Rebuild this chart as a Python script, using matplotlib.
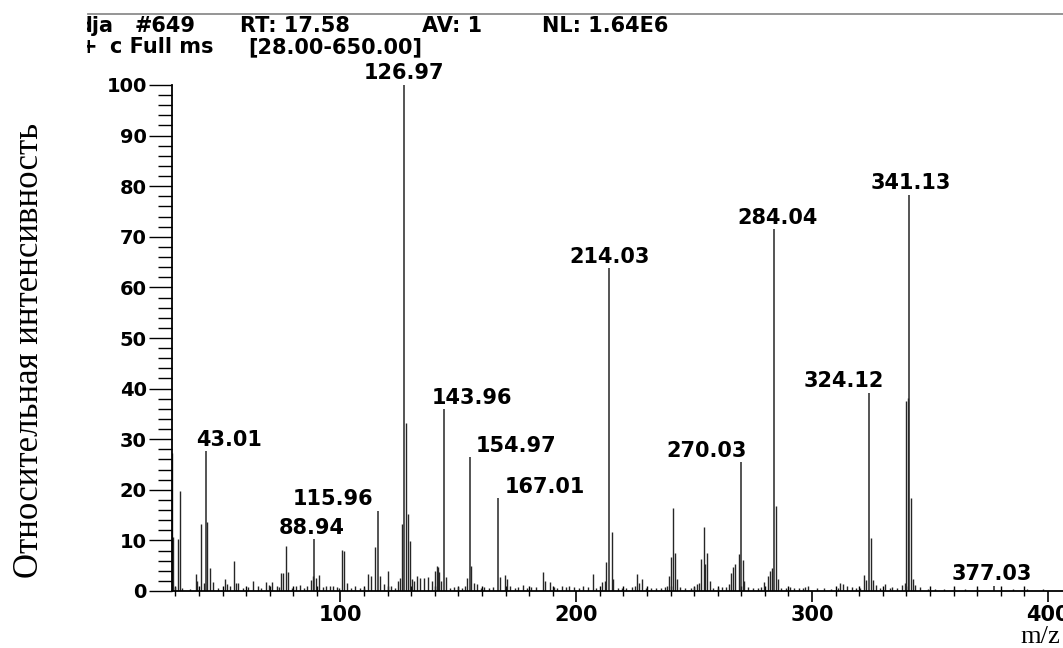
import matplotlib
matplotlib.use("Agg")
import matplotlib.pyplot as plt
import matplotlib.transforms as mtransforms
from matplotlib.lines import Line2D
from matplotlib.ticker import MultipleLocator

# ---------------- data ----------------
# labelled peaks: m/z and relative intensity (%)
peak_mz = [43.01, 88.94, 115.96, 126.97, 143.96, 154.97, 167.01,
           214.03, 270.03, 284.04, 324.12, 341.13, 377.03]
peak_int = [27.6, 10.2, 15.8, 100.0, 35.9, 26.4, 18.3,
            63.8, 25.4, 71.5, 39.2, 78.3, 1.0]

# remaining (unlabelled) ions
ion_mz = [28.6, 29.0, 30.0, 31.0, 32.0, 33.0, 36.0, 38.6, 39.3, 40.9, 42.0,
          43.4, 44.7, 45.9, 48.0, 50.9, 52.0, 53.0, 54.7, 55.6, 56.5, 58.5,
          61.0, 63.0, 65.0, 66.5, 68.5, 69.5, 70.8, 73.0, 74.0, 74.8, 75.6,
          76.8, 77.6, 79.5, 81.0, 83.0, 84.5, 86.0, 87.4, 88.2, 89.6, 90.8,
          92.5, 94.0, 95.5, 97.0, 98.5, 99.5, 100.8, 101.6, 102.8, 104.5,
          106.0, 108.5, 110.0, 111.8, 112.8, 114.6, 116.8, 118.4, 120.2,
          121.6, 123.0, 124.3, 125.4, 126.0, 127.7, 128.7, 129.6, 130.3,
          131.0, 132.5, 133.9, 135.3, 137.0, 138.8, 140.2, 140.8, 141.4,
          142.0, 142.5, 144.6, 146.5, 148.0, 150.0, 151.5, 153.0, 153.7,
          155.5, 156.5, 157.9, 159.5, 161.0, 163.0, 164.5, 167.7, 169.8,
          170.5, 172.0, 174.0, 175.5, 177.5, 179.0, 181.0, 183.0, 185.9,
          186.8, 188.7, 190.5, 192.0, 194.0, 195.5, 197.0, 199.0, 201.0,
          203.0, 205.0, 206.9, 208.5, 211.1, 212.0, 212.8, 215.0, 215.7,
          217.5, 219.5, 221.0, 223.5, 225.0, 225.8, 226.8, 227.9, 229.5,
          231.5, 234.0, 236.0, 237.5, 238.5, 239.5, 240.1, 241.0, 241.9,
          242.6, 244.0, 246.0, 248.5, 250.0, 251.0, 252.1, 252.8, 254.1,
          254.8, 255.6, 256.6, 258.0, 260.0, 262.0, 263.5, 264.7, 265.7,
          266.4, 267.4, 268.9, 270.6, 271.3, 273.0, 275.0, 277.0, 278.5,
          279.7, 281.1, 282.2, 283.2, 284.6, 285.6, 287.0, 289.0, 290.8,
          292.5, 294.4, 296.0, 297.2, 298.3, 302.0, 305.0, 308.0, 311.0,
          312.0, 313.0, 314.8, 316.9, 318.5, 320.5, 321.9, 322.9, 325.0,
          325.8, 327.0, 329.0, 330.8, 333.0, 334.0, 336.0, 338.1, 339.3,
          340.0, 340.5, 342.0, 342.8, 343.8, 345.9, 349.0, 352.0, 356.0,
          360.0, 365.0, 370.0, 385.0, 391.0, 398.0]
ion_int = [27.3, 10.6, 0.8, 10.2, 19.8, 0.6, 0.4, 3.3, 2.0, 13.2, 1.5,
           13.7, 4.6, 1.8, 0.5, 2.3, 1.4, 1.0, 6.0, 1.6, 1.5, 0.6,
           0.7, 2.0, 0.9, 0.5, 1.7, 1.2, 1.8, 1.0, 0.8, 3.5, 3.6,
           8.9, 3.8, 0.6, 1.0, 1.1, 0.5, 1.0, 2.2, 3.0, 2.6, 3.1,
           0.8, 1.0, 0.9, 1.0, 0.8, 0.6, 8.2, 7.9, 1.6, 0.5,
           1.0, 0.6, 0.5, 3.3, 3.0, 8.6, 3.0, 1.3, 4.0,
           1.0, 0.6, 2.0, 2.6, 13.2, 33.3, 15.2, 9.9, 2.3,
           2.0, 3.0, 2.6, 2.6, 2.8, 2.0, 4.0, 4.9, 4.7,
           3.8, 2.0, 2.8, 0.6, 0.7, 0.8, 0.6, 1.0, 2.6,
           4.9, 1.6, 1.4, 0.6, 0.8, 0.6, 0.8, 2.8, 3.2,
           2.3, 1.0, 0.6, 0.8, 1.2, 0.6, 0.8, 0.7, 3.8,
           2.0, 1.8, 0.8, 0.6, 1.0, 0.7, 0.9, 0.7, 0.6,
           0.9, 0.8, 3.3, 0.6, 1.8, 2.0, 5.7, 11.7, 2.3,
           0.6, 0.5, 0.6, 0.8, 1.0, 3.3, 1.6, 2.3, 0.6,
           0.5, 0.6, 0.5, 0.8, 1.0, 3.0, 6.8, 16.5, 7.6,
           2.3, 0.7, 0.5, 0.6, 0.8, 1.3, 1.6, 6.4, 12.6,
           5.4, 7.6, 2.0, 0.6, 0.5, 0.7, 0.8, 1.3, 3.6,
           4.8, 5.3, 7.4, 6.1, 2.0, 0.7, 0.6, 0.5, 0.8,
           1.8, 3.0, 4.0, 4.6, 16.8, 2.3, 0.6, 0.5, 0.7,
           0.5, 0.6, 0.5, 0.8, 1.0, 0.5, 0.6, 0.4, 0.6,
           1.6, 1.4, 1.0, 0.8, 0.5, 0.6, 3.2, 2.1, 10.5,
           2.1, 1.2, 0.5, 1.3, 0.5, 0.7, 0.5, 1.2, 1.5,
           37.5, 38.1, 18.4, 2.3, 1.2, 0.7, 0.4, 0.3, 0.3,
           0.3, 0.3, 0.3, 0.3, 0.3, 0.3]

x_ticks = [100, 200, 300, 400]
x_tick_labels = ["100", "200", "300", "400"]
y_ticks = [0, 10, 20, 30, 40, 50, 60, 70, 80, 90, 100]
y_tick_labels = [str(v) for v in y_ticks]

header_parts = [("dja", 77), ("#649", 135), ("RT: 17.58", 240),
                ("AV: 1", 422), ("NL: 1.64E6", 542)]
scan_parts = [("+", 80), ("c Full ms", 110), ("[28.00-650.00]", 248)]
y_label = "Относительная интенсивность"
x_label = "m/z"

# horizontal nudge (pixels) of each peak label relative to its peak
label_shift_px = [23, -3, -45, 0, 28, 46, 46, 0, -35, 3, -25, 2, -2]

# ---------------- figure ----------------
W, H = 1063, 648
DPI = 100
fig = plt.figure(figsize=(W / DPI, H / DPI), dpi=DPI)
fig.patch.set_facecolor("white")

SANS = "DejaVu Sans"
SERIF = "Liberation Serif"


def fx(px):
    return px / W


def fy(py):
    return 1 - py / H


ax_left, ax_right, ax_top, ax_bottom = 171.7, 1063, 85, 591
ax = fig.add_axes([fx(ax_left), fy(ax_bottom),
                   (ax_right - ax_left) / W, (ax_bottom - ax_top) / H])
ax.set_xlim(28.45, 406.4)
ax.set_ylim(0, 100)

stick_color = "#262626"
ax.vlines(ion_mz, 0, ion_int, colors=stick_color, linewidth=1.0)
ax.vlines(peak_mz, 0, peak_int, colors=stick_color, linewidth=1.1)

for m, i, dx in zip(peak_mz, peak_int, label_shift_px):
    ax.annotate(f"{m:.2f}", xy=(m, i), xytext=(dx * 72 / DPI, 4.0),
                textcoords="offset points", ha="center", va="baseline",
                fontsize=15, fontweight="bold", family=SANS,
                annotation_clip=False)

for side in ("top", "right"):
    ax.spines[side].set_visible(False)
for side in ("left", "bottom"):
    ax.spines[side].set_linewidth(1.3)
    ax.spines[side].set_color("black")

ax.set_xticks(x_ticks)
ax.set_xticklabels(x_tick_labels)
ax.xaxis.set_minor_locator(MultipleLocator(10))
ax.set_yticks(y_ticks)
ax.set_yticklabels(y_tick_labels)
ax.yaxis.set_minor_locator(MultipleLocator(2))

ax.tick_params(axis="y", which="major", direction="out", length=16.5,
               width=1.0, pad=1.5, labelsize=14)
ax.tick_params(axis="y", which="minor", direction="out", length=10,
               width=1.0)
ax.tick_params(axis="x", which="major", direction="out", length=8,
               width=1.2, pad=2, labelsize=15)
ax.tick_params(axis="x", which="minor", direction="inout", length=6.5,
               width=1.0)
for lbl in ax.get_xticklabels() + ax.get_yticklabels():
    lbl.set_fontweight("bold")
    lbl.set_family(SANS)

# header block above the plot
fig.add_artist(Line2D([fx(88), 1.0], [fy(14), fy(14)],
                      transform=fig.transFigure, color="#8c8c8c", lw=1.3))
clip = mtransforms.TransformedBbox(
    mtransforms.Bbox([[fx(87), 0.0], [1.0, 1.0]]), fig.transFigure)
for text, px in header_parts:
    t = fig.text(fx(px), fy(26), text, ha="left", va="center", fontsize=15,
                 fontweight="bold", family=SANS)
    t.set_clip_box(clip)
    t.set_clip_on(True)
for text, px in scan_parts:
    t = fig.text(fx(px), fy(47), text, ha="left", va="center", fontsize=15,
                 fontweight="bold", family=SANS)
    t.set_clip_box(clip)
    t.set_clip_on(True)

fig.text(fx(30), fy(350), y_label, rotation=90, ha="center", va="center",
         fontsize=25, family=SERIF)
fig.text(fx(1020), fy(637), x_label, ha="left", va="center",
         fontsize=19, family=SERIF)

fig.savefig("out.png", dpi=DPI, facecolor="white")
